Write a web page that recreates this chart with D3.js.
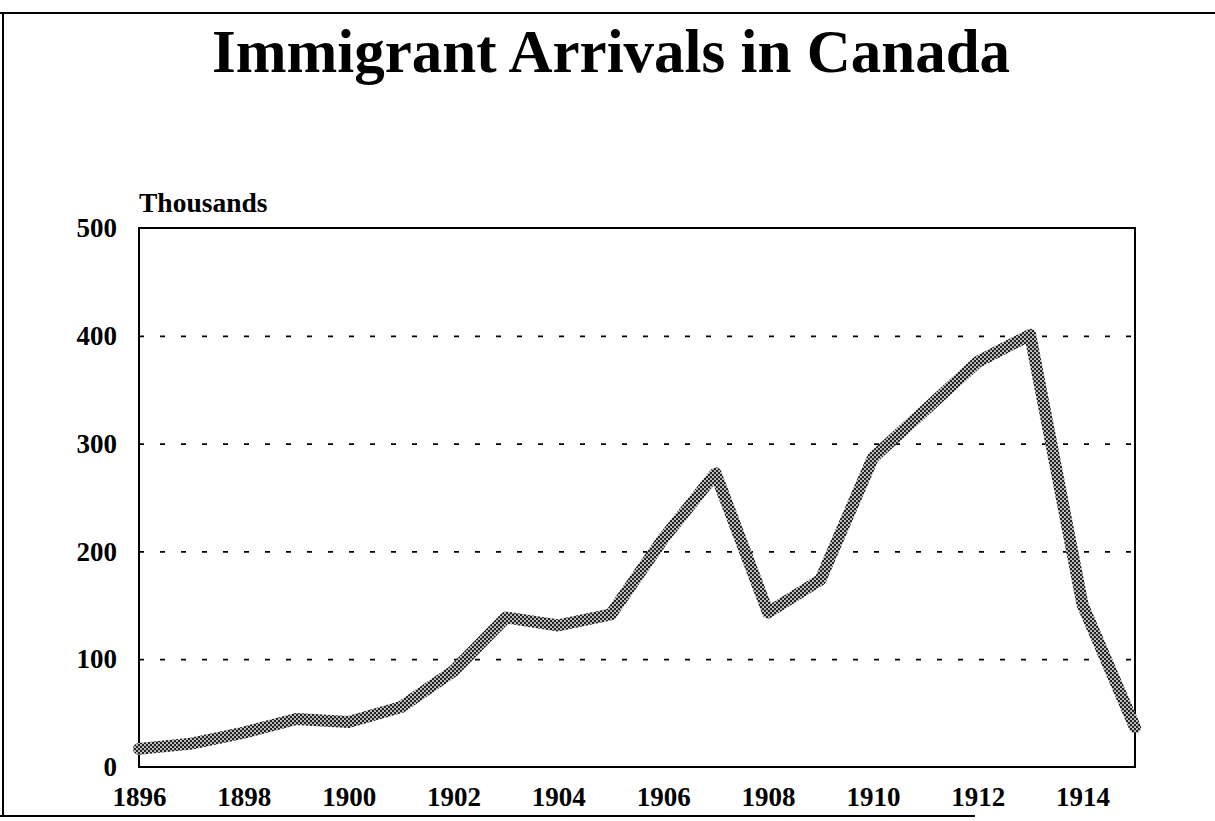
<!DOCTYPE html>
<html>
<head>
<meta charset="utf-8">
<script src="https://cdn.jsdelivr.net/npm/d3@7"></script>
<style>
  html, body { margin: 0; padding: 0; background: #fff; }
  svg { display: block; }
  text { font-family: "Liberation Serif", "Times New Roman", serif; font-weight: bold; fill: #000; }
</style>
</head>
<body>
<svg id="chart" width="1215" height="821"></svg>
<script>
// ---- data (thousands of immigrant arrivals) ----
const years = [1896, 1897, 1898, 1899, 1900, 1901, 1902, 1903, 1904, 1905,
               1906, 1907, 1908, 1909, 1910, 1911, 1912, 1913, 1914, 1915];
const arrivals = [16.8, 21.7, 31.9, 44.5, 41.7, 55.7, 89.1, 138.7, 131.3, 141.5,
                  211.7, 272.4, 143.3, 173.7, 286.8, 331.3, 375.8, 400.9, 150.5, 36.7];
const xTickYears = [1896, 1898, 1900, 1902, 1904, 1906, 1908, 1910, 1912, 1914];
const yTicks = [0, 100, 200, 300, 400, 500];
const gridTicks = [100, 200, 300, 400];
const titleText = "Immigrant Arrivals in Canada";
const unitText = "Thousands";

const svg = d3.select("#chart");
const W = 1215, H = 821;
const plot = { left: 139, right: 1135, top: 228, bottom: 767 };

const x = d3.scaleLinear().domain([1896, 1915]).range([plot.left, plot.right]);
const y = d3.scaleLinear().domain([0, 500]).range([plot.bottom, plot.top]);

// halftone pattern for the thick line
const defs = svg.append("defs");
const pat = defs.append("pattern")
  .attr("id", "halftone").attr("patternUnits", "userSpaceOnUse")
  .attr("width", 4).attr("height", 4);
pat.append("rect").attr("width", 4).attr("height", 4).attr("fill", "#222");
pat.append("circle").attr("cx", 1).attr("cy", 1).attr("r", 1.05).attr("fill", "#d0d0d0");
pat.append("circle").attr("cx", 3).attr("cy", 3).attr("r", 1.05).attr("fill", "#d0d0d0");

// outer frame (partial, as scanned)
svg.append("line").attr("x1", 0).attr("x2", W).attr("y1", 13).attr("y2", 13)
  .attr("stroke", "#000").attr("stroke-width", 2);
svg.append("line").attr("x1", 3).attr("x2", 3).attr("y1", 13).attr("y2", 816)
  .attr("stroke", "#000").attr("stroke-width", 2);
svg.append("line").attr("x1", 0).attr("x2", 975).attr("y1", 816).attr("y2", 816)
  .attr("stroke", "#000").attr("stroke-width", 2);

// title
svg.append("text").attr("x", 611).attr("y", 72).attr("text-anchor", "middle")
  .style("font-size", "61px").text(titleText);

// unit label
svg.append("text").attr("x", plot.left).attr("y", 212)
  .style("font-size", "27.5px").text(unitText);

// gridlines (dashed)
const grid = svg.append("g").attr("transform", `translate(${plot.left},0)`)
  .call(d3.axisLeft(y).tickValues(gridTicks).tickSize(-(plot.right - plot.left)).tickFormat(""));
grid.select(".domain").remove();
grid.selectAll(".tick line")
  .attr("stroke", "#000").attr("stroke-width", 1.8)
  .attr("stroke-dasharray", "5,16");

// y axis labels
const yAxis = svg.append("g").attr("transform", `translate(${plot.left},0)`)
  .call(d3.axisLeft(y).tickValues(yTicks).tickSize(0).tickPadding(22).tickFormat(d3.format("d")));
yAxis.select(".domain").remove();
yAxis.selectAll("text")
  .style("font-family", "'Liberation Serif', serif").style("font-weight", "bold")
  .style("font-size", "27px").attr("fill", "#000");

// x axis labels
const xAxis = svg.append("g").attr("transform", `translate(0,${plot.bottom})`)
  .call(d3.axisBottom(x).tickValues(xTickYears).tickSize(0).tickPadding(20).tickFormat(d3.format("d")));
xAxis.select(".domain").remove();
xAxis.selectAll("text")
  .style("font-family", "'Liberation Serif', serif").style("font-weight", "bold")
  .style("font-size", "27px").attr("fill", "#000");

// plot frame
svg.append("rect")
  .attr("x", plot.left).attr("y", plot.top)
  .attr("width", plot.right - plot.left).attr("height", plot.bottom - plot.top)
  .attr("fill", "none").attr("stroke", "#000").attr("stroke-width", 2);

// data line
const data = years.map((yr, i) => ({ yr, v: arrivals[i] }));
const line = d3.line().x(d => x(d.yr)).y(d => y(d.v));
svg.append("path").datum(data)
  .attr("d", line)
  .attr("fill", "none")
  .attr("stroke", "url(#halftone)")
  .attr("stroke-width", 12)
  .attr("stroke-linejoin", "round")
  .attr("stroke-linecap", "round");
</script>
</body>
</html>
